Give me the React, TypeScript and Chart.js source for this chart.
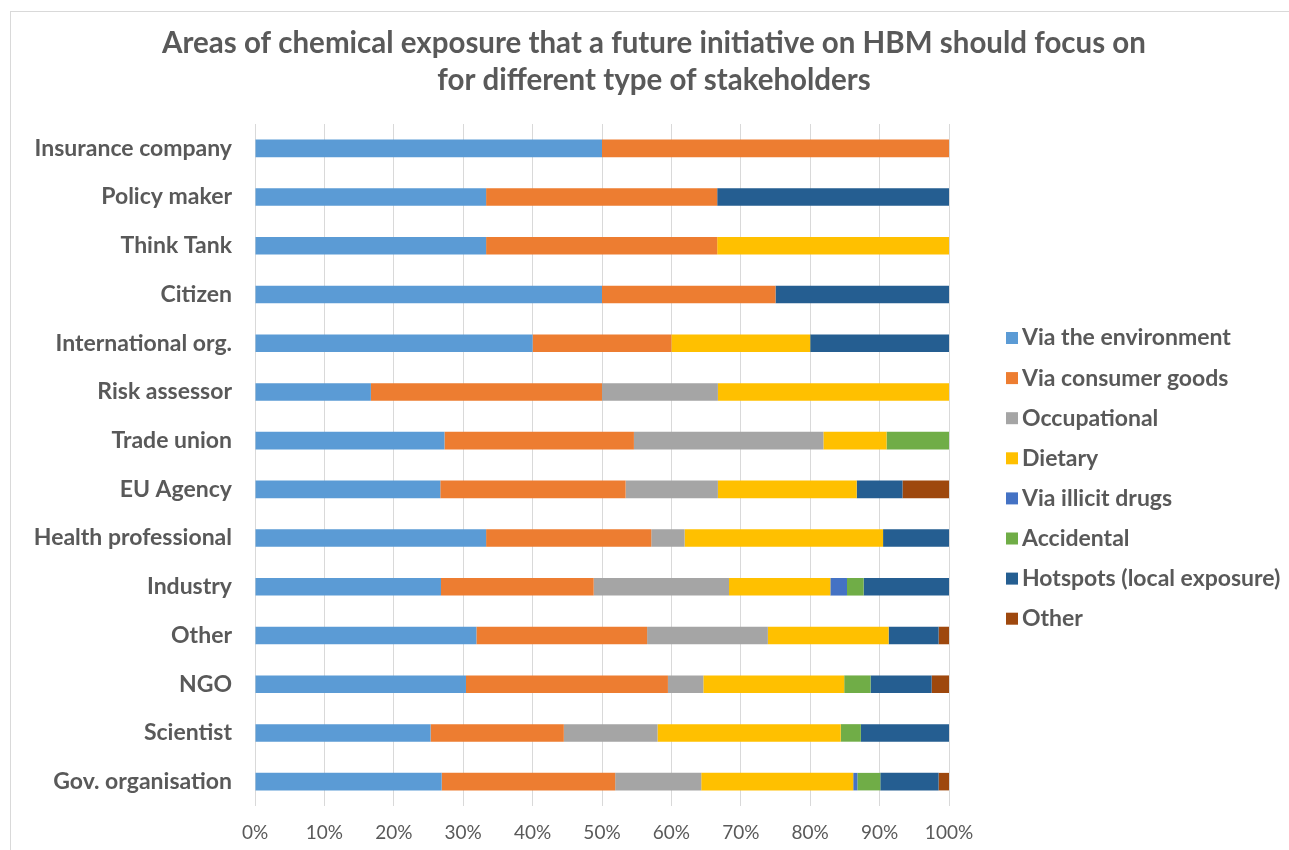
import React, { useEffect, useRef } from "react";
import { Chart, registerables } from "chart.js";

Chart.register(...registerables);

const TITLE_LINES = [
  "Areas of chemical exposure that a future initiative on HBM should focus on",
  "for different type of stakeholders",
];

const CATEGORIES = [
  "Insurance company",
  "Policy maker",
  "Think Tank",
  "Citizen",
  "International org.",
  "Risk assessor",
  "Trade union",
  "EU Agency",
  "Health professional",
  "Industry",
  "Other",
  "NGO",
  "Scientist",
  "Gov. organisation",
];

const SERIES_NAMES = [
  "Via the environment",
  "Via consumer goods",
  "Occupational",
  "Dietary",
  "Via illicit drugs",
  "Accidental",
  "Hotspots (local exposure)",
  "Other",
];

const SERIES_COLORS = [
  "#5B9BD5",
  "#ED7D31",
  "#A5A5A5",
  "#FFC000",
  "#4472C4",
  "#70AD47",
  "#255E91",
  "#9E480E",
];

const VIA_ENVIRONMENT = [50, 33.3, 33.3, 50, 40, 16.7, 27.3, 26.7, 33.3, 26.8, 31.9, 30.4, 25.3, 26.9];
const VIA_CONSUMER_GOODS = [50, 33.3, 33.3, 25, 20, 33.3, 27.3, 26.7, 23.8, 22.0, 24.6, 29.1, 19.2, 25.0];
const OCCUPATIONAL = [0, 0, 0, 0, 0, 16.7, 27.3, 13.3, 4.8, 19.5, 17.4, 5.1, 13.5, 12.4];
const DIETARY = [0, 0, 33.4, 0, 20, 33.3, 9.1, 20, 28.6, 14.6, 17.4, 20.3, 26.4, 21.9];
const VIA_ILLICIT_DRUGS = [0, 0, 0, 0, 0, 0, 0, 0, 0, 2.4, 0, 0, 0, 0.6];
const ACCIDENTAL = [0, 0, 0, 0, 0, 0, 9.1, 0, 0, 2.4, 0, 3.8, 2.9, 3.3];
const HOTSPOTS = [0, 33.4, 0, 25, 20, 0, 0, 6.6, 9.5, 12.3, 7.2, 8.8, 12.7, 8.4];
const OTHER = [0, 0, 0, 0, 0, 0, 0, 6.7, 0, 0, 1.5, 2.5, 0, 1.5];

const SERIES_VALUES = [
  VIA_ENVIRONMENT,
  VIA_CONSUMER_GOODS,
  OCCUPATIONAL,
  DIETARY,
  VIA_ILLICIT_DRUGS,
  ACCIDENTAL,
  HOTSPOTS,
  OTHER,
];

const X_TICKS = [0, 10, 20, 30, 40, 50, 60, 70, 80, 90, 100];

const TEXT_COLOR = "#595959";
const GRID_COLOR = "#D9D9D9";
const FONT = "Lato";

const backgroundPlugin = {
  id: "bgBorder",
  beforeDraw(chart: any) {
    const ctx = chart.ctx;
    ctx.save();
    ctx.fillStyle = "#ffffff";
    ctx.fillRect(0, 0, chart.width, chart.height);
    ctx.strokeStyle = GRID_COLOR;
    ctx.lineWidth = 1;
    ctx.strokeRect(10.5, 11.5, chart.width + 10, chart.height + 10);
    ctx.restore();
  },
};

const titlePlugin = {
  id: "customTitle",
  afterDraw(chart: any) {
    const ctx = chart.ctx;
    ctx.save();
    ctx.font = `bold 29.5px ${FONT}`;
    ctx.fillStyle = TEXT_COLOR;
    ctx.textAlign = "center";
    ctx.textBaseline = "alphabetic";
    ctx.fillText(TITLE_LINES[0], 654, 53);
    ctx.fillText(TITLE_LINES[1], 654, 90);
    ctx.restore();
  },
};

const customLegend = {
  id: "customLegend",
  afterDraw(chart: any) {
    const ctx = chart.ctx;
    ctx.save();
    ctx.font = `bold 23px ${FONT}`;
    ctx.textBaseline = "middle";
    ctx.textAlign = "left";
    chart.data.datasets.forEach((ds: any, i: number) => {
      const y = 338 + i * 40.1;
      ctx.fillStyle = ds.backgroundColor;
      ctx.fillRect(1006, y - 6, 12, 12);
      ctx.fillStyle = TEXT_COLOR;
      ctx.fillText(ds.label, 1022, y);
    });
    ctx.restore();
  },
};

export default function App() {
  const canvasRef = useRef<HTMLCanvasElement | null>(null);

  useEffect(() => {
    if (!canvasRef.current) return;
    const chart = new Chart(canvasRef.current, {
      type: "bar",
      data: {
        labels: CATEGORIES,
        datasets: SERIES_NAMES.map((name, i) => ({
          label: name,
          data: SERIES_VALUES[i],
          backgroundColor: SERIES_COLORS[i],
          borderWidth: 0,
          categoryPercentage: 1,
          barPercentage: 0.36,
        })),
      },
      options: {
        indexAxis: "y",
        responsive: false,
        animation: false,
        layout: { padding: { left: 10, right: 340, top: 124, bottom: 0 } },
        plugins: {
          legend: { display: false },
          tooltip: { enabled: false },
          title: { display: false },
        },
        scales: {
          x: {
            stacked: true,
            min: 0,
            max: 100,
            afterBuildTicks(scale: any) {
              scale.ticks = X_TICKS.map((v) => ({ value: v }));
            },
            afterFit(scale: any) {
              scale.height = 44;
            },
            grid: { color: GRID_COLOR, lineWidth: 1, drawTicks: false },
            border: { display: false },
            ticks: {
              padding: 15,
              color: TEXT_COLOR,
              font: { family: FONT, size: 19 },
              callback: (v: any) => `${v}%`,
              maxRotation: 0,
            },
          },
          y: {
            stacked: true,
            afterFit(scale: any) {
              scale.width = 245;
            },
            grid: { display: false, drawTicks: false },
            border: { display: false },
            ticks: {
              autoSkip: false,
              padding: 23,
              color: TEXT_COLOR,
              font: { family: FONT, size: 23, weight: "bold" },
            },
          },
        },
      },
      plugins: [backgroundPlugin, titlePlugin, customLegend],
    });
    return () => chart.destroy();
  }, []);

  return (
    <div style={{ position: "fixed", left: 0, top: 0, width: 1289, height: 850, overflow: "hidden" }}>
      <canvas ref={canvasRef} width={1289} height={850} style={{ display: "block" }} />
    </div>
  );
}
